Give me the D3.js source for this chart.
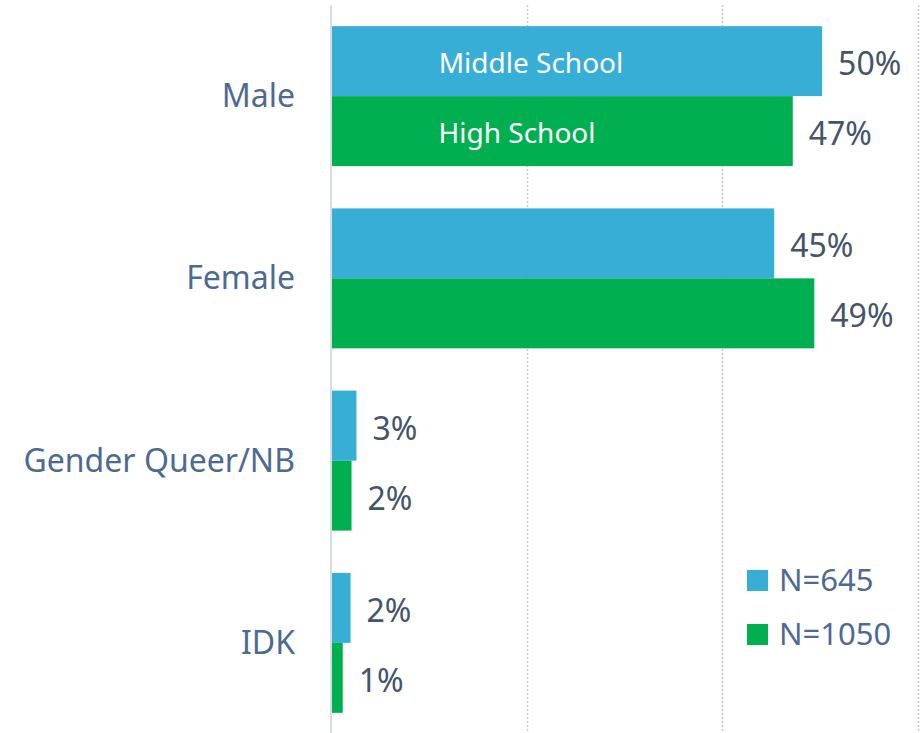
<!DOCTYPE html>
<html>
<head>
<meta charset="utf-8">
<script src="https://cdn.jsdelivr.net/npm/d3@7"></script>
<style>
  body { margin: 0; background: #fff; }
  text { font-family: "Noto Sans", sans-serif; }
</style>
</head>
<body>
<div id="chart"></div>
<script>
    const categories = ["Male", "Female", "Gender Queer/NB", "IDK"];
    const series = ["Middle School", "High School"];
    const middleSchool = [50.2, 45.3, 2.6, 2.0];
    const highSchool = [47.2, 49.4, 2.1, 1.2];
    const legendLabels = ["N=645", "N=1050"];
    const gridTicks = [20, 40, 60];

    const w = 922;
    const h = 733;
    const colors = ['#37aed5', '#00b050'];

    const svg = d3.select('#chart')
        .append('svg')
        .attr('width', w)
        .attr('height', h);

    const xScale = d3.scaleLinear()
        .domain([0, 60])
        .range([331, 918]);

    const yScale = d3.scaleBand()
        .domain(categories)
        .range([5, 734])
        .paddingInner(0.232)
        .paddingOuter(0.116);

    const ySub = d3.scaleBand()
        .domain(series)
        .range([0, yScale.bandwidth()]);

    // dotted gridlines
    svg.selectAll('.grid')
        .data(gridTicks)
        .enter()
        .append('line')
        .attr('x1', (d) => Math.round(xScale(d)) + 0.5)
        .attr('x2', (d) => Math.round(xScale(d)) + 0.5)
        .attr('y1', 5)
        .attr('y2', h)
        .attr('stroke', '#c8c8c8')
        .attr('stroke-width', 1.5)
        .attr('stroke-dasharray', '2,2');

    const rows = categories.map((c, i) => ({ cat: c, vals: [middleSchool[i], highSchool[i]] }));

    const groups = svg.selectAll('.group')
        .data(rows)
        .enter()
        .append('g')
        .attr('transform', (d) => 'translate(0,' + yScale(d.cat) + ')');

    groups.selectAll('rect')
        .data((d) => d.vals.map((v, j) => ({ s: series[j], v: v, j: j })))
        .enter()
        .append('rect')
        .attr('x', xScale(0))
        .attr('y', (d) => ySub(d.s))
        .attr('width', (d) => xScale(d.v) - xScale(0))
        .attr('height', ySub.bandwidth())
        .attr('fill', (d) => colors[d.j]);

    groups.selectAll('.val')
        .data((d) => d.vals.map((v, j) => ({ s: series[j], v: v })))
        .enter()
        .append('text')
        .attr('x', (d) => xScale(d.v) + 16)
        .attr('y', (d) => ySub(d.s) + ySub.bandwidth() / 2 + 14)
        .attr('fill', '#44546a')
        .style('font-size', '32px')
        .text((d) => d3.format('.0f')(d.v) + '%');

    // series names written inside the Male bars
    const inner = [{ s: series[0], x: 531 }, { s: series[1], x: 517 }];
    svg.selectAll('.inner')
        .data(inner)
        .enter()
        .append('text')
        .attr('x', (d) => d.x)
        .attr('y', (d) => yScale(categories[0]) + ySub(d.s) + ySub.bandwidth() / 2 + 12)
        .attr('text-anchor', 'middle')
        .attr('fill', '#ffffff')
        .style('font-size', '28px')
        .text((d) => d.s);

    // category labels
    svg.selectAll('.cat')
        .data(categories)
        .enter()
        .append('text')
        .attr('x', 295)
        .attr('y', (d) => yScale(d) + yScale.bandwidth() / 2 + 11)
        .attr('text-anchor', 'end')
        .attr('fill', '#4d6a92')
        .style('font-size', '32px')
        .text((d) => d);

    // axis line
    svg.append('line')
        .attr('x1', xScale(0))
        .attr('x2', xScale(0))
        .attr('y1', 5)
        .attr('y2', h)
        .attr('stroke', '#d6dde7')
        .attr('stroke-width', 2);

    const legend = svg.selectAll('.legend')
        .data(legendLabels)
        .enter()
        .append('g')
        .attr('transform', (d, i) => 'translate(747,' + (570 + i * 54) + ')');

    legend.append('rect')
        .attr('width', 21)
        .attr('height', 21)
        .attr('fill', (d, i) => colors[i]);

    legend.append('text')
        .attr('x', 32)
        .attr('y', 21)
        .attr('fill', '#4d6a92')
        .style('font-size', '31px')
        .text((d) => d);
</script>
</body>
</html>
